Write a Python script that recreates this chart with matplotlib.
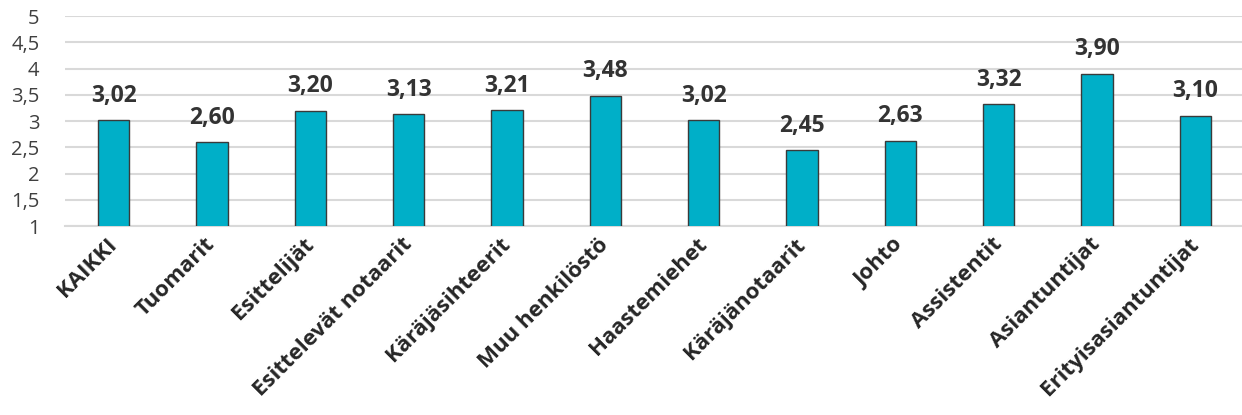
import matplotlib
matplotlib.use("Agg")
import matplotlib.pyplot as plt
import numpy as np

categories = ["KAIKKI", "Tuomarit", "Esittelijät", "Esittelevät notaarit",
              "Käräjäsihteerit", "Muu henkilöstö", "Haastemiehet", "Käräjänotaarit",
              "Johto", "Assistentit", "Asiantuntijat", "Erityisasiantuntijat"]
values = [3.02, 2.60, 3.20, 3.13, 3.21, 3.48, 3.02, 2.45, 2.63, 3.32, 3.90, 3.10]
yticks = [1, 1.5, 2, 2.5, 3, 3.5, 4, 4.5, 5]

plt.rcParams["font.family"] = ["Open Sans", "DejaVu Sans"]

fig = plt.figure(figsize=(12.42, 4.15), dpi=100)
ax = fig.add_axes([0.052, 0.455, 0.95, 0.506])

xs = np.arange(len(categories))
bars = ax.bar(xs, values, width=0.32, bottom=0, color="#00AFC8",
              edgecolor="#3a3a3a", linewidth=1.0, zorder=3)
for x, v in zip(xs, values):
    ax.annotate(f"{v:.2f}".replace(".", ","), (x, v), xytext=(0, 9),
                textcoords="offset points", ha="center", va="bottom",
                fontsize=16.5, fontweight="bold", color="#333333")

ax.set_ylim(1, 5)
ax.set_xlim(-0.5, len(categories) - 0.5)
ax.set_yticks(yticks)
ax.set_yticklabels([f"{t:g}".replace(".", ",") for t in yticks], fontsize=14.5, color="#404040")
ax.set_xticks(xs)
ax.set_xticklabels(categories, rotation=45, ha="right", va="center", rotation_mode="anchor",
                   fontsize=16, fontweight="bold", color="#262626")
ax.tick_params(axis="both", length=0)
ax.tick_params(axis="x", pad=11)
ax.tick_params(axis="y", pad=18)

ax.grid(axis="y", color="#d9d9d9", linewidth=1.5, zorder=0)
ax.set_axisbelow(True)
for s in ("top", "right", "left"):
    ax.spines[s].set_visible(False)
ax.spines["bottom"].set_color("#d9d9d9")
ax.spines["bottom"].set_linewidth(1.5)

fig.savefig("out.png", dpi=100)
